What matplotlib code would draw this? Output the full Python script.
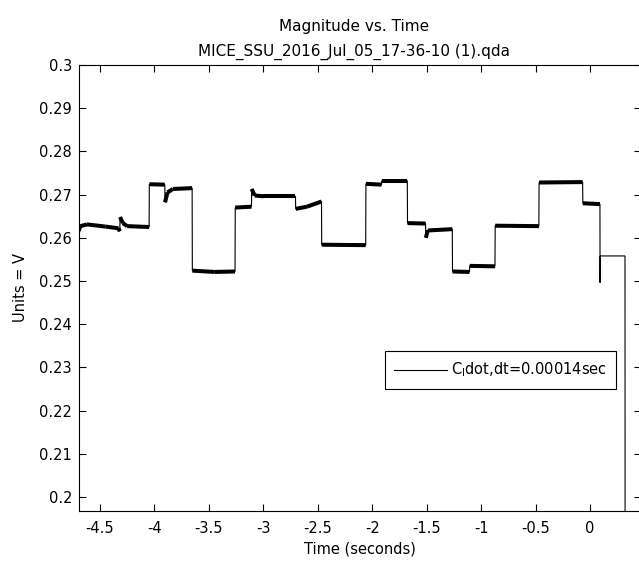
import numpy as np
import matplotlib
matplotlib.use("Agg")
import matplotlib.pyplot as plt
from matplotlib.collections import LineCollection

# ---- data (time in s, magnitude in V) ----
time = [-4.70, -4.68, -4.62, -4.45, -4.33, -4.318,
        -4.316, -4.29, -4.25, -4.049,
        -4.047, -3.905,
        -3.903, -3.88, -3.83, -3.654,
        -3.652, -3.45, -3.26,
        -3.258, -3.109,
        -3.107, -3.08, -3.0, -2.705,
        -2.703, -2.60, -2.466,
        -2.464, -2.060,
        -2.058, -1.915, -1.913, -1.678,
        -1.676, -1.510,
        -1.508, -1.49, -1.265,
        -1.263, -1.107, -1.105, -0.873,
        -0.871, -0.470,
        -0.468, -0.068,
        -0.066, 0.091,
        0.092, 0.093, 0.321, 0.322]
volts = [0.2614, 0.2627, 0.2631, 0.2626, 0.2622, 0.2615,
         0.2648, 0.2634, 0.2627, 0.2625,
         0.2724, 0.2723,
         0.2682, 0.2705, 0.2713, 0.2715,
         0.2524, 0.2521, 0.2522,
         0.2670, 0.2672,
         0.2713, 0.2698, 0.2696, 0.2696,
         0.2667, 0.2672, 0.2684,
         0.2584, 0.2583,
         0.2725, 0.2723, 0.2732, 0.2732,
         0.2634, 0.2633,
         0.2600, 0.2617, 0.2620,
         0.2522, 0.2521, 0.2535, 0.2534,
         0.2628, 0.2627,
         0.2728, 0.2729,
         0.2680, 0.2678,
         0.2496, 0.2558, 0.2558, 0.1900]
xticks = [-4.5, -4, -3.5, -3, -2.5, -2, -1.5, -1, -0.5, 0]
xtick_labels = ["-4.5", "-4", "-3.5", "-3", "-2.5", "-2", "-1.5", "-1", "-0.5", "0"]
yticks = [0.2, 0.21, 0.22, 0.23, 0.24, 0.25, 0.26, 0.27, 0.28, 0.29, 0.3]
ytick_labels = ["0.2", "0.21", "0.22", "0.23", "0.24", "0.25", "0.26", "0.27", "0.28", "0.29", "0.3"]
title_lines = ["Magnitude vs. Time", "MICE_SSU_2016_Jul_05_17-36-10 (1).qda"]
legend_label = r"C$_{l}$dot,dt=0.00014sec"
noise_end = 0.092  # after this time the trace is clean (sample-and-hold)

plt.rcParams['font.family'] = ['DejaVu Sans']
plt.rcParams['mathtext.default'] = 'regular'
plt.rcParams['font.size'] = 10.5

W, H = 639, 561
fig = plt.figure(figsize=(W / 100, H / 100), dpi=100, facecolor='white')
ax = fig.add_axes([79 / W, (H - 511) / H, (641 - 79) / W, (511 - 65) / H])

t = np.asarray(time)
v = np.asarray(volts)

# thin trace (also used for the legend)
ax.plot(t, v, color='black', lw=0.8, label=legend_label, solid_joinstyle='miter')

# noisy plateaus drawn as a thicker band
segs = []
for i in range(len(t) - 1):
    if t[i + 1] - t[i] > 0.005 and t[i + 1] <= noise_end:
        segs.append([(t[i], v[i]), (t[i + 1], v[i + 1])])
ax.add_collection(LineCollection(segs, colors='black', linewidths=2.9, capstyle='butt'))

ax.set_xlim(-4.6928, 0.468)
ax.set_ylim(0.19676, 0.3)
ax.set_xticks(xticks)
ax.set_xticklabels(xtick_labels)
ax.set_yticks(yticks)
ax.set_yticklabels(ytick_labels)
ax.tick_params(direction='in', length=5, width=0.8, top=True, right=True,
               labelsize=10.5, colors='black')
ax.tick_params(axis='x', pad=7)
ax.tick_params(axis='y', pad=5)
for s in ax.spines.values():
    s.set_linewidth(0.8)
    s.set_color('black')

ax.set_xlabel("Time (seconds)", fontsize=10.5, labelpad=4.5)
ax.set_ylabel("Units = V", fontsize=10.5, labelpad=8)
ax.set_title("\n".join(title_lines), fontsize=11, pad=6.5, x=0.489, linespacing=1.8)

leg = ax.legend(loc='center', bbox_to_anchor=((500.5 - 79) / 562, (511 - 370) / 446),
                frameon=True, fancybox=False, framealpha=1, edgecolor='black',
                handlelength=3.6, handletextpad=0.3, borderpad=0.65, fontsize=10.5)
leg.get_frame().set_linewidth(0.8)

fig.savefig("out.png", dpi=100, facecolor='white')
